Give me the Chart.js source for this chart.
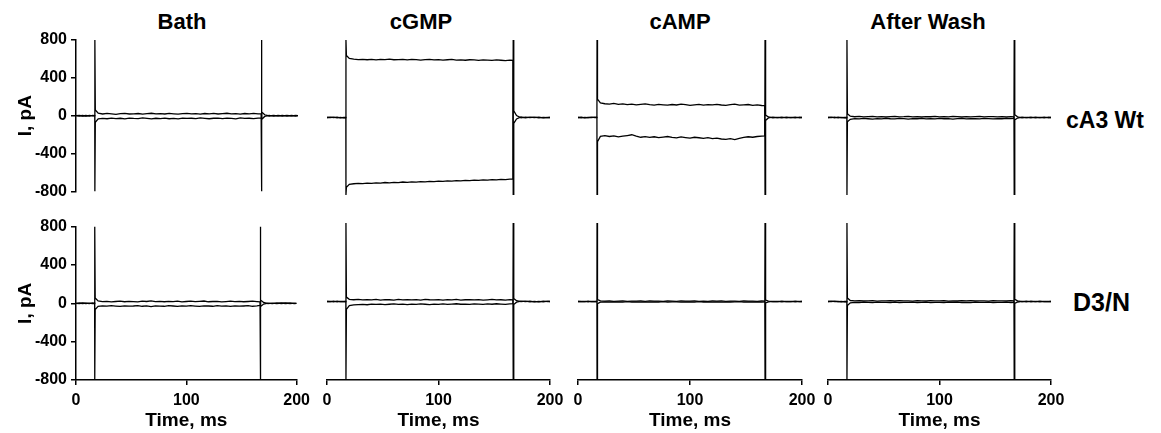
<!DOCTYPE html>
<html><head><meta charset="utf-8">
<script src="https://cdn.jsdelivr.net/npm/chart.js@4.4.1/dist/chart.umd.min.js"></script>
<style>
html,body{margin:0;padding:0;background:#fff;}
#wrap{position:relative;width:1161px;height:433px;overflow:hidden;background:#fff;font-family:'Liberation Sans',Arial,sans-serif;}
canvas{position:absolute;}
.lbl{position:absolute;font-weight:bold;color:#000;white-space:nowrap;line-height:1;transform:translate(-50%,-50%);}
.row{position:absolute;font-weight:bold;color:#000;white-space:nowrap;line-height:1;transform:translateY(-50%);}
</style></head><body><div id="wrap"></div>
<script>
// ---- data ----
const conditions = ['Bath', 'cGMP', 'cAMP', 'After Wash'];
const constructs = ['cA3 Wt', 'D3/N'];
const yTickValues = [-800, -400, 0, 400, 800];
const xTickValues = [0, 100, 200];

const timeMs = [0, 3, 6, 9, 12, 15, 16.9, 17, 17.4, 20, 24, 28, 32, 36, 40, 44, 48, 52, 56, 60, 64, 68, 72, 76, 80, 84, 88, 92, 96, 100, 104, 108, 112, 116, 120, 124, 128, 132, 136, 140, 144, 148, 152, 156, 160, 164, 166.8, 167, 167.5, 170, 174, 178, 182, 186, 190, 194, 198, 200];

// cA3 Wt row
const wtBathUp = [0, 4, -3, 2, -4, 3, 0, 800, 60, 26, 18, 24, 20, 15, 22, 25, 18, 20, 23, 17, 21, 26, 19, 22, 18, 24, 20, 16, 22, 25, 19, 21, 17, 23, 20, 24, 18, 22, 26, 19, 21, 17, 23, 20, 24, 19, 20, -800, -40, -8, 3, -4, 2, -3, 4, -2, 3, 0];
const wtBathDown = [0, -3, 2, -4, 3, -2, 0, -800, -70, -34, -28, -32, -26, -30, -27, -33, -25, -29, -31, -24, -28, -33, -27, -30, -25, -32, -28, -34, -26, -29, -27, -31, -24, -28, -32, -27, -25, -30, -26, -29, -33, -24, -28, -27, -31, -26, -25, 800, 40, 10, -3, 4, -2, 3, -4, 2, -3, 0];
const wtCgmpUp = [0, 3, -2, 4, -3, 2, 0, 800, 640, 610, 603, 598, 601, 596, 600, 594, 599, 597, 602, 596, 598, 601, 595, 599, 597, 593, 598, 600, 594, 597, 592, 596, 599, 593, 595, 591, 596, 594, 590, 595, 592, 589, 594, 591, 588, 592, 590, -800, -60, -15, 5, -3, 4, -2, 3, -4, 2, 0];
const wtCgmpDown = [0, -2, 3, -3, 2, -4, 0, -800, -720, -690, -684, -680, -683, -677, -679, -674, -677, -671, -674, -669, -672, -666, -669, -664, -667, -661, -664, -659, -662, -656, -659, -654, -657, -651, -654, -649, -652, -646, -649, -644, -647, -641, -644, -639, -642, -637, -636, 800, 70, 20, -4, 3, -2, 4, -3, 2, -1, 0];
const wtCampUp = [0, 3, -3, 2, -2, 4, 0, 800, 190, 150, 142, 138, 145, 136, 140, 132, 138, 130, 135, 141, 133, 128, 136, 131, 127, 134, 129, 137, 132, 126, 131, 135, 128, 133, 130, 136, 129, 125, 132, 138, 127, 131, 134, 126, 130, 124, 122, -800, -30, -5, 3, -2, 4, -3, 2, -4, 3, 0];
const wtCampDown = [0, -3, 2, -2, 3, -1, 0, -800, -250, -195, -188, -196, -190, -200, -193, -186, -178, -192, -204, -198, -206, -199, -208, -202, -196, -205, -210, -201, -207, -212, -204, -209, -215, -208, -218, -212, -222, -226, -219, -228, -215, -206, -199, -204, -196, -192, -190, 800, 25, 6, -3, 2, -4, 3, -2, 4, -3, 0];
const wtWashUp = [0, 3, -3, 4, -2, 2, 0, 800, 40, 14, 8, 11, 6, 9, 12, 7, 10, 5, 9, 11, 6, 8, 12, 7, 9, 5, 10, 8, 11, 6, 9, 7, 12, 8, 5, 10, 7, 9, 11, 6, 8, 10, 7, 9, 5, 8, 6, -800, -25, -6, 3, -2, 4, -3, 2, -4, 3, 0];
const wtWashDown = [0, -2, 3, -3, 2, -4, 0, -800, -45, -18, -12, -15, -10, -13, -16, -11, -14, -9, -13, -15, -10, -12, -16, -11, -13, -9, -14, -12, -15, -10, -13, -11, -16, -12, -9, -14, -11, -13, -15, -10, -12, -14, -11, -13, -9, -12, -10, 800, 28, 7, -3, 2, -4, 3, -2, 4, -3, 0];

// D3/N row
const d3BathUp = [0, 3, -2, 2, -3, 4, 0, 800, 55, 24, 17, 21, 15, 19, 23, 16, 20, 18, 14, 22, 19, 25, 17, 20, 16, 21, 18, 23, 15, 19, 22, 17, 20, 24, 16, 19, 21, 15, 18, 22, 17, 20, 16, 19, 23, 18, 15, -800, -35, -8, 2, -3, 4, -2, 3, -4, 2, 0];
const d3BathDown = [0, -3, 3, -2, 2, -3, 0, -800, -65, -32, -27, -30, -25, -29, -33, -26, -30, -28, -24, -31, -27, -34, -26, -29, -31, -25, -28, -32, -27, -30, -24, -29, -33, -26, -28, -31, -25, -29, -27, -32, -26, -30, -28, -25, -31, -27, -22, 800, 35, 9, -3, 2, -4, 3, -2, 3, -3, 0];
const d3CgmpUp = [0, 2, -3, 3, -2, 2, 0, 800, 45, 22, 18, 21, 16, 20, 17, 22, 15, 19, 18, 14, 21, 17, 20, 16, 19, 15, 22, 18, 16, 20, 14, 19, 17, 21, 15, 18, 20, 16, 19, 14, 17, 21, 16, 18, 15, 19, 17, -800, -30, -7, 3, -2, 3, -4, 2, -3, 4, 0];
const d3CgmpDown = [0, -2, 3, -3, 2, -2, 0, -800, -80, -42, -35, -31, -29, -33, -27, -30, -26, -31, -28, -25, -30, -27, -32, -26, -29, -24, -28, -31, -26, -29, -25, -30, -27, -23, -28, -26, -30, -24, -27, -29, -25, -28, -23, -26, -29, -24, -22, 800, 30, 8, -2, 3, -3, 2, -4, 3, -2, 0];
const d3CampUp = [0, 2, -2, 3, -2, 1, 0, 800, 20, 6, 3, 5, 2, 4, 6, 1, 4, 3, 5, 2, 6, 3, 4, 1, 5, 3, 2, 6, 4, 3, 5, 1, 4, 2, 5, 3, 6, 2, 4, 3, 1, 5, 3, 4, 2, 5, 3, -800, -15, -3, 2, -2, 3, -2, 2, -3, 2, 0];
const d3CampDown = [0, -2, 2, -3, 2, -1, 0, -800, -22, -7, -4, -6, -3, -5, -7, -2, -5, -4, -6, -3, -7, -4, -5, -2, -6, -4, -3, -7, -5, -4, -6, -2, -5, -3, -6, -4, -7, -3, -5, -4, -2, -6, -4, -5, -3, -6, -4, 800, 15, 3, -2, 2, -3, 2, -2, 3, -2, 0];
const d3WashUp = [0, 3, -2, 2, -3, 2, 0, 800, 35, 10, 6, 8, 5, 7, 9, 4, 7, 6, 8, 5, 9, 6, 7, 4, 8, 6, 5, 9, 7, 6, 8, 4, 7, 5, 8, 6, 9, 5, 7, 6, 4, 8, 6, 7, 5, 8, 6, -800, -20, -5, 2, -3, 3, -2, 3, -2, 2, 0];
const d3WashDown = [0, -2, 3, -2, 2, -3, 0, -800, -40, -13, -8, -10, -7, -9, -11, -6, -9, -8, -10, -7, -11, -8, -9, -6, -10, -8, -7, -11, -9, -8, -10, -6, -9, -7, -10, -8, -11, -7, -9, -8, -6, -10, -8, -9, -7, -10, -8, 800, 22, 6, -2, 3, -3, 2, -3, 2, -2, 0];

const panelTraces = [
  [[wtBathUp, wtBathDown], [wtCgmpUp, wtCgmpDown], [wtCampUp, wtCampDown], [wtWashUp, wtWashDown]],
  [[d3BathUp, d3BathDown], [d3CgmpUp, d3CgmpDown], [d3CampUp, d3CampDown], [d3WashUp, d3WashDown]]
];

// ---- layout ----
const FONT = "'Liberation Sans', Arial, Helvetica, sans-serif";
Chart.defaults.font.family = FONT;
Chart.defaults.color = '#000';
const colArea = [[76, 298], [327, 550], [578, 802], [828, 1051]];
const wrap = document.getElementById('wrap');

function addText(cls, text, x, y, size) {
  const d = document.createElement('div');
  d.className = cls; d.textContent = text;
  d.style.left = x + 'px'; d.style.top = y + 'px'; d.style.fontSize = size + 'px';
  wrap.appendChild(d);
}
const titleCenters = [182, 421, 680, 928];
conditions.forEach((c, i) => addText('lbl', c, titleCenters[i], 22, 22));
addText('row', constructs[0], 1066, 120, 23);
addText('row', constructs[1], 1073, 302, 25);

function makePanel(row, col) {
  const [L, R] = colArea[col];
  const hasY = col === 0;
  const hasX = row === 1;
  const cv = document.createElement('canvas');
  let left, width, padL, padR;
  if (hasY) { left = 0; padL = 0; padR = 18; width = R + padR; }
  else { left = L - 20; padL = 20; padR = 20; width = R - L + 40; }
  let top, height, padT, padB;
  if (row === 0) { top = 20; height = 185; padT = 20; padB = 10; }
  else { top = 213; height = 220; padT = 10; padB = 0; }
  cv.width = width; cv.height = height;
  cv.style.left = left + 'px'; cv.style.top = top + 'px';
  cv.style.width = width + 'px'; cv.style.height = height + 'px';
  wrap.appendChild(cv);

  const traces = panelTraces[row][col];
  const datasets = traces.map(vals => ({
    data: timeMs.map((t, i) => ({ x: t, y: vals[i] })),
    borderColor: '#000', borderWidth: 1.3, pointRadius: 0, tension: 0, fill: false
  }));

  const xScale = {
    type: 'linear', min: 0, max: 200, display: hasX,
    afterBuildTicks: s => { s.ticks = xTickValues.map(v => ({ value: v })); },
    grid: { display: true, drawOnChartArea: false, drawTicks: true, tickLength: 5, color: '#000', lineWidth: 1.5 },
    border: { display: true, color: '#000', width: 1.5 },
    ticks: { font: { size: 16, weight: 'bold' }, color: '#000', padding: 6, maxRotation: 0 },
    title: { display: true, text: 'Time, ms', font: { size: 19, weight: 'bold' }, color: '#000', padding: { top: 0, bottom: 1 } }
  };
  if (hasX) xScale.afterFit = s => { s.height = 53; };
  const yScale = {
    type: 'linear', min: -800, max: 800, display: hasY,
    afterBuildTicks: s => { s.ticks = yTickValues.map(v => ({ value: v })); },
    grid: { display: true, drawOnChartArea: false, drawTicks: true, tickLength: 5, color: '#000', lineWidth: 1.5 },
    border: { display: true, color: '#000', width: 1.5 },
    ticks: { font: { size: 16, weight: 'bold' }, color: '#000', padding: 4 },
    title: { display: true, text: 'I, pA', font: { size: 19, weight: 'bold' }, color: '#000', padding: { top: 14, bottom: 0 } }
  };
  if (hasY) yScale.afterFit = s => { s.width = 76; };

  new Chart(cv, {
    type: 'line',
    data: { datasets },
    options: {
      responsive: false, animation: false, maintainAspectRatio: false,
      layout: { padding: { left: padL, right: padR, top: padT, bottom: padB } },
      plugins: { legend: { display: false }, tooltip: { enabled: false } },
      scales: { x: xScale, y: yScale }
    }
  });
}
for (let r = 0; r < 2; r++) for (let c = 0; c < 4; c++) makePanel(r, c);
</script></body></html>
